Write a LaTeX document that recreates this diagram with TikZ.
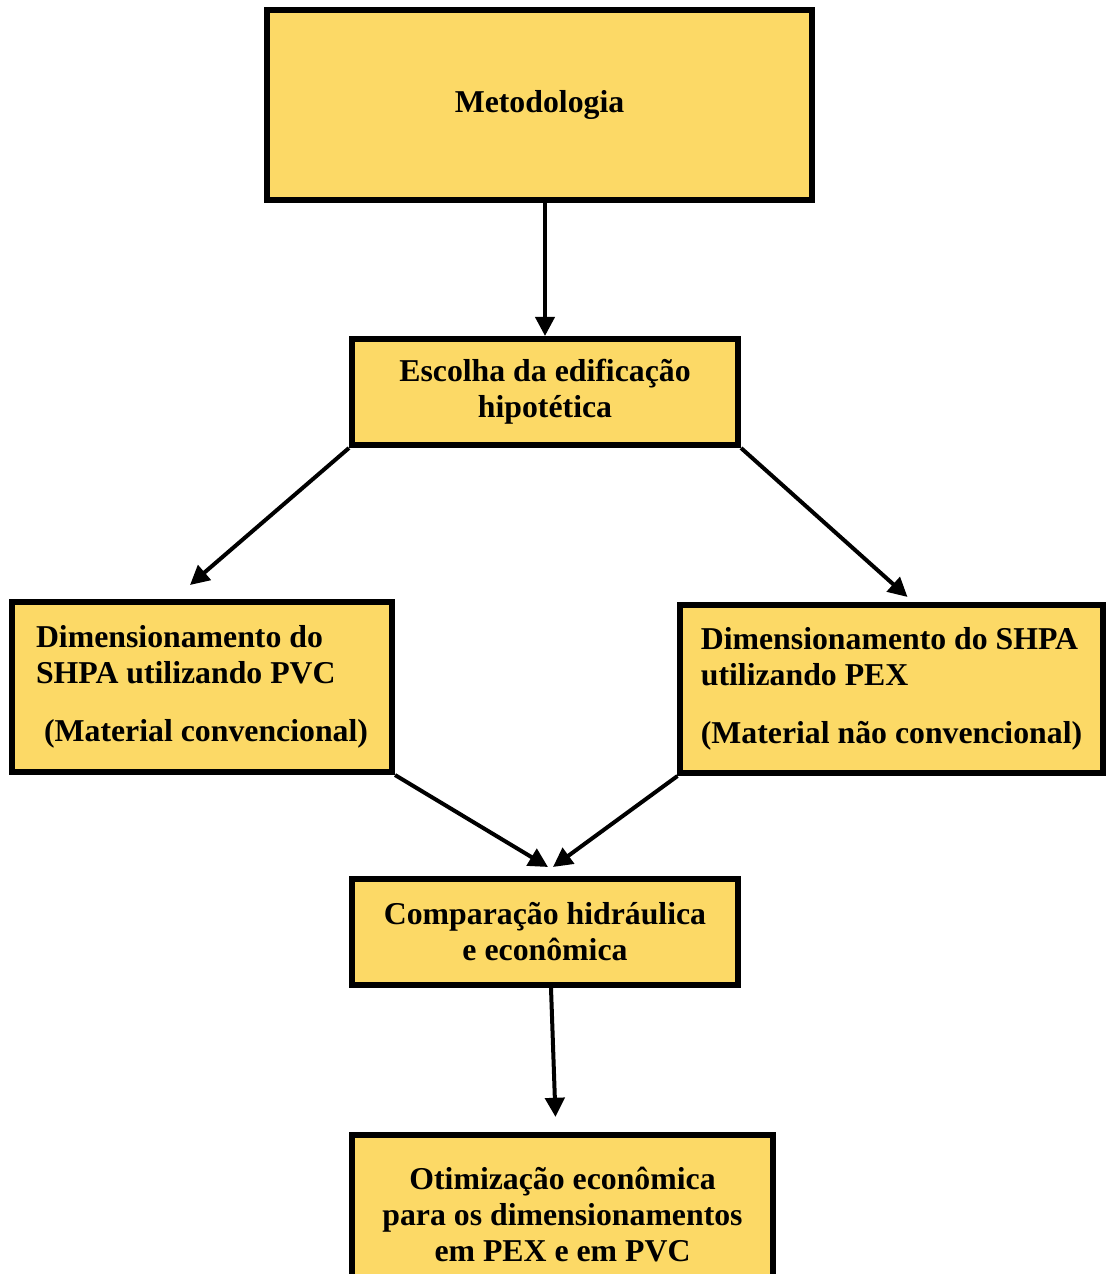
\documentclass[tikz,border=0pt]{standalone}
\usepackage{fontspec}
\setmainfont{Liberation Serif}
\definecolor{boxyellow}{RGB}{252,217,102}
\usetikzlibrary{arrows.meta,positioning,calc}

\begin{document}
\begin{tikzpicture}[x=0.025cm, y=-0.025cm,
    >={Triangle[length=0.48cm,width=0.48cm]},
    stagebox/.style={draw=black, line width=0.15cm, fill=boxyellow,
      font=\bfseries\fontsize{22.6}{25.6}\selectfont, align=center, inner sep=0pt},
    flowarrow/.style={->, line width=0.1cm}]

  \clip (0,0) rectangle (1107,1274);

  %% ===== TOP =====
  \node[stagebox, minimum width=13.6cm, minimum height=4.75cm] (meto)
    at (539.5,105) {Metodologia};

  \node[stagebox, minimum width=9.65cm, minimum height=2.65cm] (escolha)
    at (545,392) {Escolha da edificação\\hipotética};

  %% ===== BRANCHES =====
  \node[stagebox, minimum width=9.5cm, minimum height=4.25cm, align=left] (pvc)
    at (202,687)
    {Dimensionamento do\\SHPA utilizando PVC\\[0.55cm]\hspace{0.2cm}(Material convencional)};

  \node[stagebox, minimum width=10.55cm, minimum height=4.2cm, align=left] (pex)
    at (891.5,689)
    {Dimensionamento do SHPA\\utilizando PEX\\[0.55cm](Material não convencional)};

  %% ===== BOTTOM =====
  \node[stagebox, minimum width=9.65cm, minimum height=2.65cm] (comp)
    at (545,932) {Comparação hidráulica\\e econômica};

  \node[stagebox, minimum width=10.5cm, minimum height=4cm] (otim)
    at (562.5,1215)
    {Otimização econômica\\para os dimensionamentos\\em PEX e em PVC};

  % Connectors
  \draw[flowarrow] (meto.south -| escolha.north) -- (escolha.north);
  \draw[flowarrow] (escolha.south west) -- ([shift={(-12,-14)}]pvc.north);
  \draw[flowarrow] (escolha.south east) -- ([shift={(16,-5)}]pex.north);
  \draw[flowarrow] (pvc.south east) -- ([shift={(3,-9)}]comp.north);
  \draw[flowarrow] (pex.south west) -- ([shift={(8,-9)}]comp.north);
  \draw[flowarrow] ([shift={(6,0)}]comp.south) -- ([shift={(-7,-15)}]otim.north);

\end{tikzpicture}
\end{document}
